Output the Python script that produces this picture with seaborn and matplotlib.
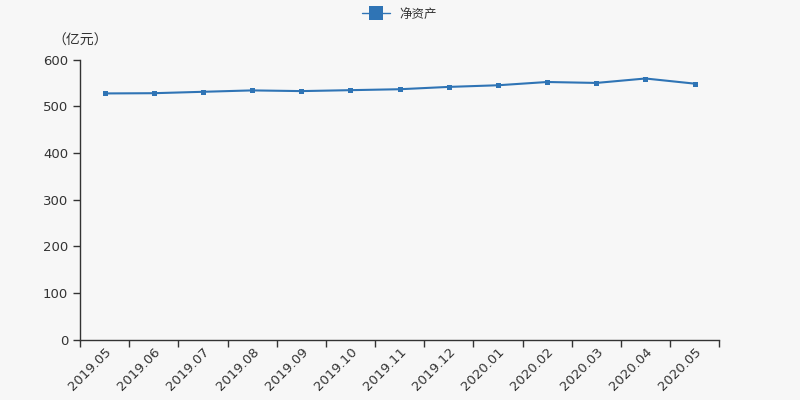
import numpy as np
import pandas as pd
import seaborn as sns
import matplotlib.pyplot as plt

months = ["2019.05", "2019.06", "2019.07", "2019.08", "2019.09", "2019.10", "2019.11",
          "2019.12", "2020.01", "2020.02", "2020.03", "2020.04", "2020.05"]
net_assets = [527.5, 528, 531, 534, 532.5, 534.5, 536.5, 541.5, 545, 552, 550, 559.5, 548.5]

sns.set_style("white")
plt.rcParams['font.family'] = ['DejaVu Sans', 'Noto Sans CJK SC']

df = pd.DataFrame({"pos": np.arange(len(months)), "val": net_assets})

fig = plt.figure(figsize=(8, 4), dpi=100, facecolor="#f7f7f7")
ax = fig.add_axes([0.1, 0.151, 0.799, 0.7])
ax.set_facecolor("#f7f7f7")

color = "#2f74b5"
sns.lineplot(data=df, x="pos", y="val", ax=ax, color=color, linewidth=1.5,
             marker="s", markersize=3.6, markeredgewidth=0, label="净资产")

ax.set_xlim(-0.5, len(months) - 0.5)
ax.set_ylim(0, 600)
ax.set_yticks(range(0, 601, 100))
ax.set_xticks(np.arange(-0.5, len(months), 1.0))
ax.set_xticklabels([])
ax.set_xticks(np.arange(len(months)), minor=True)
ax.set_xticklabels(months, minor=True, rotation=45, ha="right", rotation_mode="anchor")
ax.tick_params(axis="x", which="major", bottom=True, length=5, width=1, color="#333333")
ax.tick_params(axis="x", which="minor", bottom=True, length=0, pad=4, labelsize=9.5, labelcolor="#333333")
ax.tick_params(axis="y", left=True, length=5, width=1, color="#333333", labelsize=9.5, labelcolor="#333333")
ax.set_xlabel("")
ax.set_ylabel("")
for s in ["top", "right"]:
    ax.spines[s].set_visible(False)
for s in ["left", "bottom"]:
    ax.spines[s].set_color("#333333")
    ax.spines[s].set_linewidth(1)

fig.text(0.1, 0.898, "（亿元）", ha="center", va="center", fontsize=10, color="#333333",
         family=['Noto Sans CJK SC', 'DejaVu Sans'])

leg = ax.legend(loc="upper center", bbox_to_anchor=(0.5, 1.225), frameon=False,
                fontsize=9, handlelength=2.2, markerscale=2.8)
for t in leg.get_texts():
    t.set_color("#333333")
    t.set_family(['Noto Sans CJK SC', 'DejaVu Sans'])
for h in leg.legend_handles:
    h.set_linewidth(1)

fig.savefig("out.png", dpi=100, facecolor=fig.get_facecolor())
